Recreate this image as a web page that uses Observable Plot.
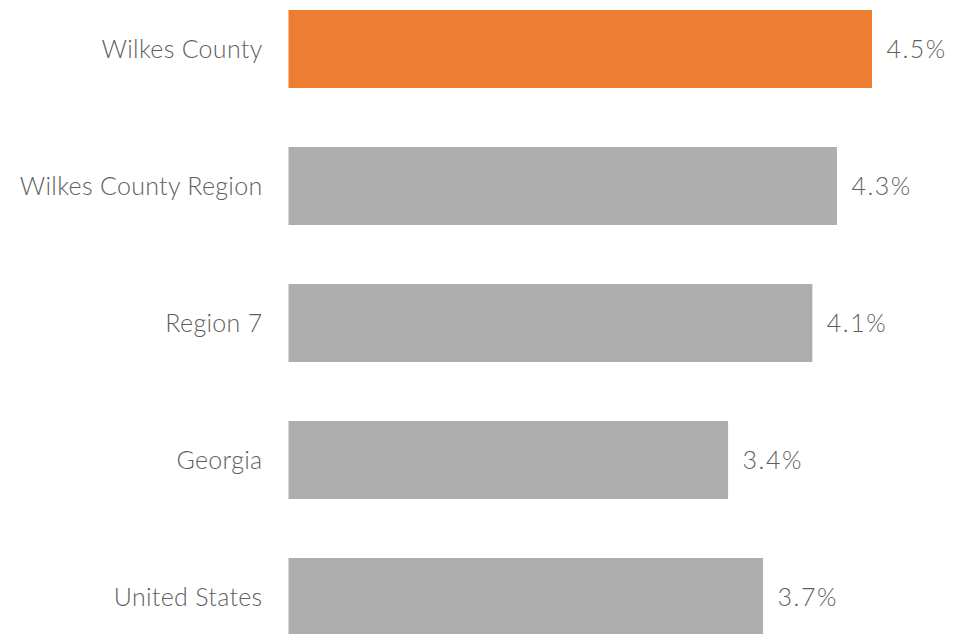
<!DOCTYPE html>
<html>
<head>
<meta charset="utf-8">
<script src="https://cdn.jsdelivr.net/npm/d3@7"></script>
<script src="https://cdn.jsdelivr.net/npm/@observablehq/plot@0.6"></script>
<style>
  html, body { margin: 0; padding: 0; background: #fff; overflow: hidden; }
  #chart svg { display: block; }
  #chart g[aria-label="text"] text { letter-spacing: 1.5px; }
  #chart g[aria-label="y-axis tick label"] text { letter-spacing: 0.3px; }
</style>
</head>
<body>
<div id="chart"></div>
<script>
const categories = ["Wilkes County", "Wilkes County Region", "Region 7", "Georgia", "United States"];
const values = [4.5, 4.23, 4.04, 3.39, 3.66];
const valueLabels = ["4.5%", "4.3%", "4.1%", "3.4%", "3.7%"];
const highlight = ["Wilkes County"];

const data = categories.map((c, i) => ({category: c, value: values[i], label: valueLabels[i]}));

const font = "Lato, 'Open Sans', sans-serif";

const chart = Plot.plot({
  width: 969,
  height: 634,
  marginLeft: 288,
  marginRight: 0,
  marginTop: 0,
  marginBottom: 0,
  style: {fontFamily: font, color: "#5f5f5f", background: "#fff"},
  x: {domain: [0, 4.5], range: [288.5, 872], axis: null},
  y: {domain: categories, range: [10, 638.7], paddingInner: 0.428, paddingOuter: 0, align: 0, label: null},
  marks: [
    Plot.barX(data, {
      x: "value",
      y: "category",
      fill: d => highlight.includes(d.category) ? "#ED7D31" : "#AEAEAE"
    }),
    Plot.axisY({
      tickSize: 0,
      tickPadding: 26,
      fontSize: 25,
      fontWeight: 300,
      label: null
    }),
    Plot.text(data, {
      x: "value",
      y: "category",
      text: "label",
      dx: 14,
      textAnchor: "start",
      fontSize: 25,
      fontWeight: 300,
      fill: "#5f5f5f"
    })
  ]
});

document.getElementById("chart").appendChild(chart);
</script>
</body>
</html>
